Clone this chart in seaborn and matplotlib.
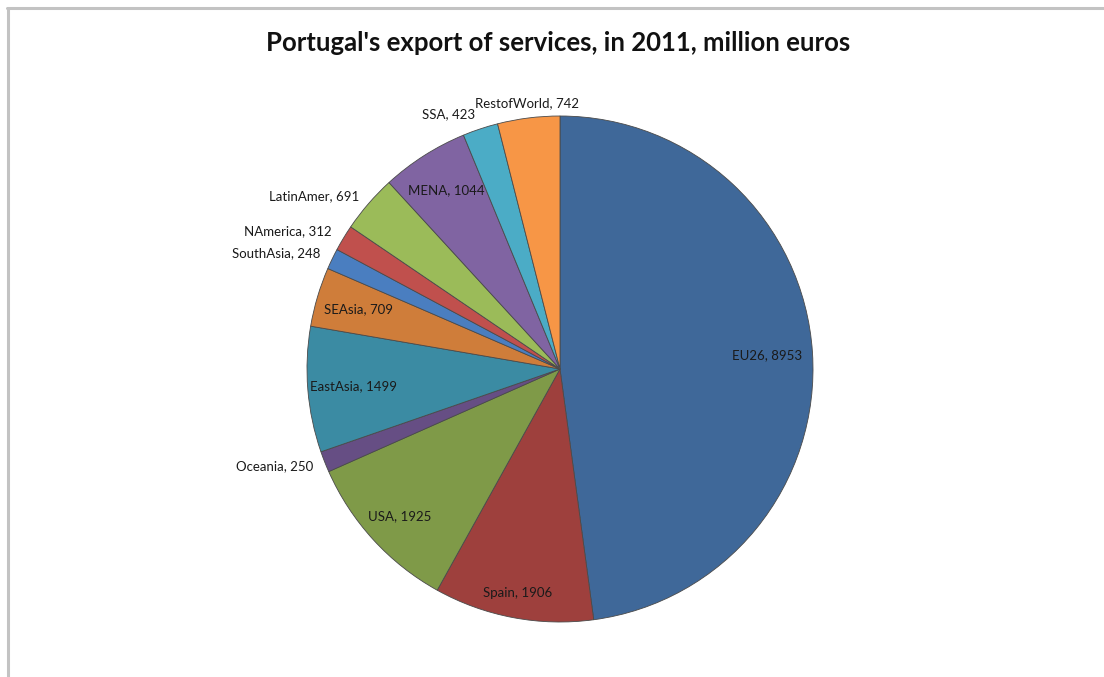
import matplotlib
matplotlib.use("Agg")
import matplotlib.pyplot as plt
from matplotlib.lines import Line2D
import numpy as np
import seaborn as sns

# Export of services by destination region, million euros (2011)
regions = ["EU26", "Spain", "USA", "Oceania", "EastAsia", "SEAsia",
           "SouthAsia", "NAmerica", "LatinAmer", "MENA", "SSA", "RestofWorld"]
values = [8953, 1906, 1925, 250, 1499, 709, 248, 312, 691, 1044, 423, 742]

slice_colors = ["#3F6899", "#9E403D", "#7F9A48", "#664E84", "#3B8BA3", "#CF7D3A",
                "#4A7EC0", "#C0504D", "#9BBB59", "#8064A2", "#4BACC6", "#F79646"]

# label placement: radial distance (in pie radii), and whether the label sits outside
label_dist = [0.82, 0.90, 0.86, 1.05, 0.82, 0.83, 1.05, 1.055, 1.047, 0.84, 1.06, 1.06]
label_outside = [False, False, False, True, False, False, True, True, True, False, True, True]

sns.set_theme(style="white")
plt.rcParams["font.family"] = ["Lato", "DejaVu Sans"]

W, H = 1104, 677
fig = plt.figure(figsize=(W / 100, H / 100), dpi=100)
ax = fig.add_axes([0, 0, 1, 1])

palette = sns.color_palette(slice_colors)
wedges, _ = ax.pie(values, colors=palette, startangle=90, counterclock=False,
                   wedgeprops=dict(edgecolor="#4a4a4a", linewidth=0.6))

# pixel geometry of the pie: centre and radius
cx, cy, rad = 560, 369, 253
ax.set_xlim(-cx / rad, (W - cx) / rad)
ax.set_ylim(-(H - cy) / rad, cy / rad)
ax.set_aspect("auto")
ax.axis("off")

total = float(sum(values))
cum = np.cumsum([0] + values)
for i, (name, v) in enumerate(zip(regions, values)):
    mid = (cum[i] + cum[i + 1]) / 2 / total
    ang = np.deg2rad(90 - 360 * mid)
    r = label_dist[i]
    x, y = r * np.cos(ang), r * np.sin(ang)
    if label_outside[i]:
        ha = "right" if np.cos(ang) < -0.2 else "center"
    else:
        ha = "center"
    ax.text(x, y, f"{name}, {v}", ha=ha, va="center", fontsize=9.5, color="#1a1a1a")

fig.text(558 / W, 1 - 43 / H, "Portugal's export of services, in 2011, million euros",
         ha="center", va="center", fontsize=18.5, fontweight="bold", color="#111111")

# thin grey frame along the top and left edges
fig.add_artist(Line2D([7.5 / W, 7.5 / W], [0, 1 - 7.5 / H], transform=fig.transFigure,
                      color="#c3c3c3", linewidth=2.2))
fig.add_artist(Line2D([6.5 / W, 1], [1 - 7.5 / H, 1 - 7.5 / H], transform=fig.transFigure,
                      color="#c3c3c3", linewidth=2.2))

fig.savefig("out.png", dpi=100, facecolor="white")
